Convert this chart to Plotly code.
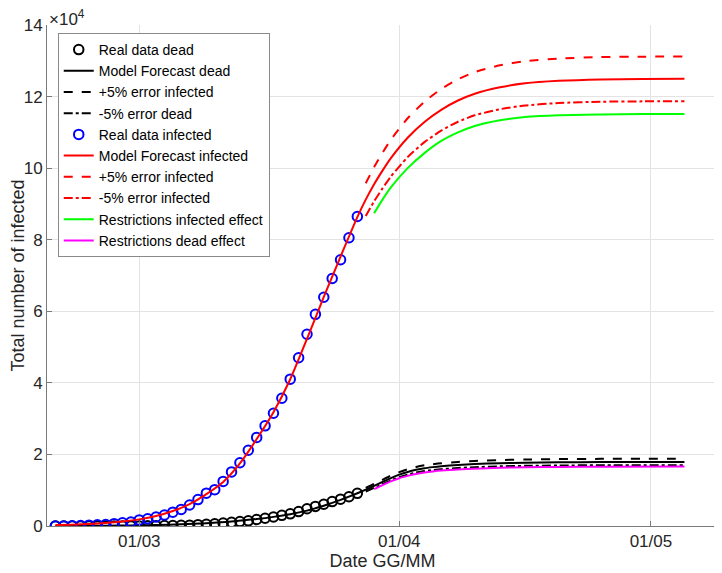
"""Italy COVID-19 forecast chart: real data vs model, with +/-5% bands"""
import pandas as pd
import plotly.graph_objects as go

# real data, one point per day from 20/02 to 27/03
data_dates = pd.date_range("2020-02-20", "2020-03-27", freq="D")
real_infected = [3, 20, 79, 150, 229, 322, 400, 650, 888, 1128,
                 1694, 2036, 2502, 3089, 3858, 4636, 5883, 7375, 9172, 10149,
                 12462, 15113, 17660, 21157, 24747, 27980, 31506, 35713, 41035, 47021,
                 53578, 59138, 63927, 69176, 74386, 80539, 86498]
real_dead = [0, 1, 2, 3, 7, 10, 12, 17, 21, 29,
             34, 52, 79, 107, 148, 197, 233, 366, 463, 631,
             827, 1016, 1266, 1441, 1809, 2158, 2503, 2978, 3405, 4032,
             4825, 5476, 6077, 6820, 7503, 8165, 9134]

# model forecast, infected
model_inf_dates = ["2020-02-20", "2020-02-22", "2020-02-24", "2020-02-26", "2020-02-28",
                   "2020-03-01", "2020-03-03", "2020-03-05", "2020-03-07", "2020-03-09",
                   "2020-03-11", "2020-03-13", "2020-03-15", "2020-03-17", "2020-03-19",
                   "2020-03-21", "2020-03-23", "2020-03-25", "2020-03-27", "2020-03-28",
                   "2020-03-29", "2020-03-30", "2020-03-31", "2020-04-02", "2020-04-04",
                   "2020-04-06", "2020-04-08", "2020-04-10", "2020-04-13", "2020-04-16",
                   "2020-04-20", "2020-04-25", "2020-04-30", "2020-05-05"]
model_infected = [250, 380, 570, 850, 1250,
                  1850, 2800, 4200, 6100, 8900,
                  12300, 17500, 24300, 31800, 41000,
                  52300, 64000, 75300, 86300, 91200,
                  95500, 99300, 102800, 108500, 112900,
                  116300, 118900, 120800, 122600, 123700,
                  124400, 124800, 124900, 124950]

# error bands, infected (from 28/03)
band_inf_dates = ["2020-03-28", "2020-03-29", "2020-03-30", "2020-03-31", "2020-04-02",
                  "2020-04-04", "2020-04-06", "2020-04-08", "2020-04-10", "2020-04-13",
                  "2020-04-16", "2020-04-20", "2020-04-25", "2020-04-30", "2020-05-05"]
plus5_infected = [95760, 100280, 104270, 107940, 113930,
                  118550, 122120, 124850, 126840, 128730,
                  129890, 130620, 131040, 131150, 131200]
minus5_infected = [86640, 90730, 94340, 97660, 103080,
                   107260, 110490, 112960, 114760, 116470,
                   117520, 118180, 118560, 118660, 118700]

# restrictions effect, infected (from 29/03)
restr_inf_dates = band_inf_dates[1:]
restr_infected = [87400, 91200, 94600, 100000,
                  104200, 107600, 110000, 111800, 113400,
                  114300, 114800, 115000, 115100, 115100]

# model forecast, dead
model_dead_dates = ["2020-02-20", "2020-02-23", "2020-02-26", "2020-02-29", "2020-03-03",
                    "2020-03-06", "2020-03-09", "2020-03-12", "2020-03-15", "2020-03-17",
                    "2020-03-19", "2020-03-21", "2020-03-22", "2020-03-23", "2020-03-24",
                    "2020-03-25", "2020-03-26", "2020-03-27", "2020-03-28", "2020-03-29",
                    "2020-03-30", "2020-03-31", "2020-04-01", "2020-04-02", "2020-04-03",
                    "2020-04-04", "2020-04-05", "2020-04-06", "2020-04-08", "2020-04-10",
                    "2020-04-13", "2020-04-16", "2020-04-20", "2020-04-25", "2020-05-05"]
model_dead = [20, 40, 80, 150, 270,
              460, 780, 1250, 1950, 2550,
              3300, 4300, 4950, 5650, 6450,
              7300, 8200, 9150, 10150, 11200,
              12300, 13400, 14350, 15100, 15700,
              16150, 16450, 16700, 17050, 17300,
              17550, 17700, 17800, 17870, 17900]

# error bands, dead (from 28/03)
band_dead_dates = model_dead_dates[18:]
plus5_dead = [10660, 11760, 12920, 14070, 15070, 15860, 16490, 16960,
              17270, 17540, 17900, 18170, 18430, 18590, 18690, 18760, 18800]
minus5_dead = [9640, 10640, 11690, 12730, 13630, 14350, 14920, 15340,
               15630, 15870, 16200, 16440, 16670, 16820, 16910, 16980, 17010]

# restrictions effect, dead (from 29/03)
restr_dead_dates = band_dead_dates[1:]
restr_dead = [10300, 11400, 12450, 13350, 14000, 14550, 14950, 15250,
              15480, 15800, 16030, 16270, 16400, 16500, 16560, 16600]

y_ticks = [0, 20000, 40000, 60000, 80000, 100000, 120000, 140000]
y_tick_text = ["0", "2", "4", "6", "8", "10", "12", "14"]
x_ticks = ["2020-03-01", "2020-04-01", "2020-05-01"]
x_tick_text = ["01/03", "01/04", "01/05"]

TEXT = "#262626"
LW = 2


def line(x, y, name, color, dash="solid"):
    return go.Scatter(x=x, y=y, name=name, mode="lines",
                      line=dict(color=color, width=LW, dash=dash, shape="spline", smoothing=0.6))


def circles(x, y, name, color):
    return go.Scatter(x=x, y=y, name=name, mode="markers",
                      marker=dict(symbol="circle-open", size=9.5, color=color,
                                  line=dict(color=color, width=2)))


fig = go.Figure()
fig.add_trace(circles(data_dates, real_dead, "Real data dead", "black"))
fig.add_trace(line(model_dead_dates, model_dead, "Model Forecast dead", "black"))
fig.add_trace(line(band_dead_dates, plus5_dead, "+5% error infected", "black", "dash"))
fig.add_trace(line(band_dead_dates, minus5_dead, "-5% error dead", "black", "dashdot"))
fig.add_trace(circles(data_dates, real_infected, "Real data infected", "#0000ff"))
fig.add_trace(line(model_inf_dates, model_infected, "Model Forecast infected", "#ff0000"))
fig.add_trace(line(band_inf_dates, plus5_infected, "+5% error infected", "#ff0000", "dash"))
fig.add_trace(line(band_inf_dates, minus5_infected, "-5% error infected", "#ff0000", "dashdot"))
fig.add_trace(line(restr_inf_dates, restr_infected, "Restrictions infected effect", "#00ff00"))
fig.add_trace(line(restr_dead_dates, restr_dead, "Restrictions dead effect", "#ff00ff"))

axis_common = dict(showgrid=True, gridcolor="#e3e3e3", gridwidth=1,
                   showline=True, linecolor="#7a7a7a", linewidth=1,
                   ticks="inside", ticklen=5, tickcolor="#7a7a7a",
                   tickfont=dict(size=17, color=TEXT), zeroline=False, automargin=False)

# the page body adds an 8px offset, margins compensate for it
fig.update_layout(
    width=722, height=573,
    template="plotly_white",
    font=dict(family="Liberation Sans, Arial, sans-serif", color=TEXT),
    margin=dict(l=39, r=12, t=17, b=55),
    paper_bgcolor="white", plot_bgcolor="white",
    xaxis=dict(range=["2020-02-19", "2020-05-09"], tickvals=x_ticks, ticktext=x_tick_text,
               title=dict(text="Date GG/MM", font=dict(size=18, color=TEXT), standoff=2),
               **axis_common),
    yaxis=dict(range=[0, 140000], tickvals=y_ticks, ticktext=y_tick_text,
               title=dict(text="Total number of infected", font=dict(size=18, color=TEXT), standoff=0),
               **axis_common),
    legend=dict(x=0.016, y=0.984, xanchor="left", yanchor="top",
                bgcolor="white", bordercolor="#8a8a8a", borderwidth=1,
                font=dict(size=14, color="black"), tracegroupgap=0, itemwidth=30),
    annotations=[dict(text="×10<sup>4</sup>", x=0, y=1, xref="paper", yref="paper",
                      xanchor="left", yanchor="top", showarrow=False,
                      font=dict(size=17, color=TEXT), yshift=20)],
)

fig.write_html("out.html")
